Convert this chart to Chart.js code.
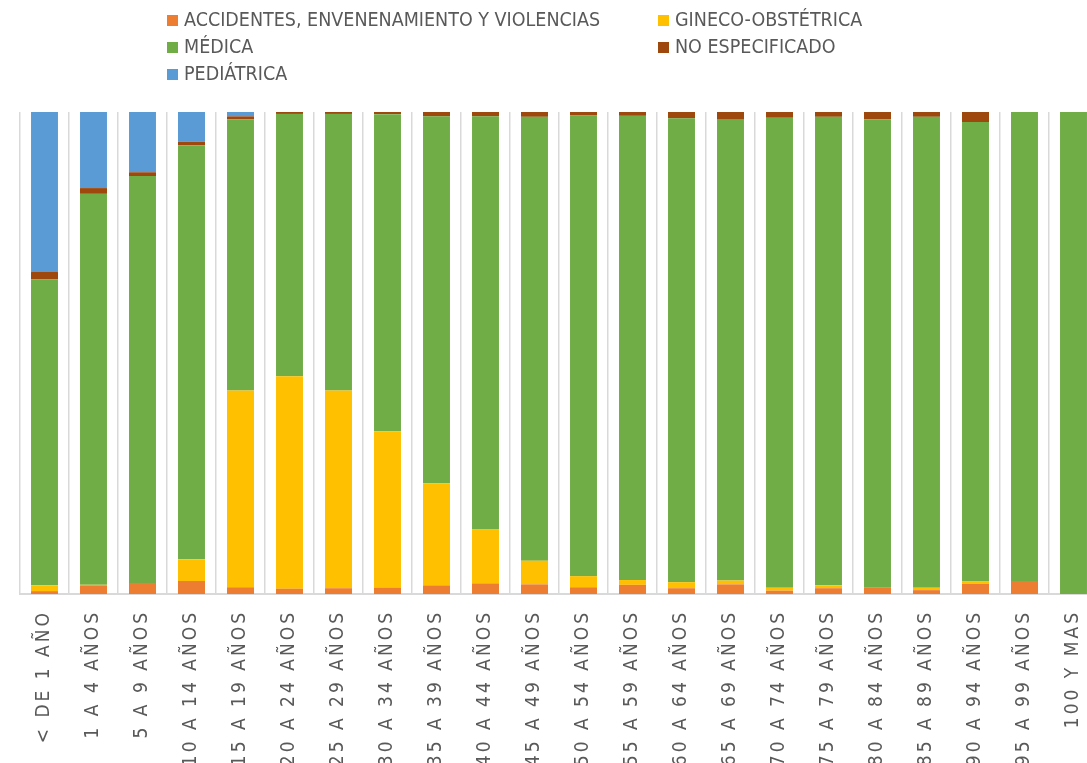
<!DOCTYPE html>
<html>
<head>
<meta charset="utf-8">
<script src="https://cdn.jsdelivr.net/npm/chart.js@4.4.0/dist/chart.umd.min.js"></script>
<style>
  html, body { margin: 0; padding: 0; background: #fff; overflow: hidden; width: 1087px; height: 763px; }
  #wrap { position: absolute; left: 0; top: 0; width: 1100px; height: 763px; }
  #legend { position: absolute; left: 0; top: 0; font-family: "Liberation Sans Narrow", "DejaVu Sans Condensed", sans-serif; font-size: 19.5px; color: #595959; }
  .item { position: absolute; white-space: nowrap; line-height: 20px; }
  .box { display: inline-block; width: 11px; height: 11px; margin-right: 6px; vertical-align: 0px; }
</style>
</head>
<body>
<div id="wrap">
  <canvas id="chart" width="1100" height="763"></canvas>
  <div id="legend"></div>
</div>
<script>
const labels = ['< DE 1 AÑO', '1 A 4 AÑOS', '5 A 9 AÑOS', '10 A 14 AÑOS', '15 A 19 AÑOS', '20 A 24 AÑOS',
  '25 A 29 AÑOS', '30 A 34 AÑOS', '35 A 39 AÑOS', '40 A 44 AÑOS', '45 A 49 AÑOS', '50 A 54 AÑOS',
  '55 A 59 AÑOS', '60 A 64 AÑOS', '65 A 69 AÑOS', '70 A 74 AÑOS', '75 A 79 AÑOS', '80 A 84 AÑOS',
  '85 A 89 AÑOS', '90 A 94 AÑOS', '95 A 99 AÑOS', '100 Y MAS'];

// percentages per age group
const accidentes = [0.6, 1.8, 2.3, 2.7, 1.4, 1.1, 1.2, 1.35, 1.8, 2.2, 2.0, 1.4, 1.9, 1.2, 2.0, 0.7, 1.2, 1.3, 0.8, 2.1, 2.7, 0];
const gineco = [1.2, 0.1, 0, 4.5, 40.8, 44.1, 41.0, 32.4, 21.2, 11.2, 4.9, 2.3, 1.0, 1.25, 0.8, 0.6, 0.6, 0, 0.5, 0.5, 0, 0];
const medica = [63.5, 81.2, 84.4, 86.0, 56.3, 54.4, 57.4, 65.8, 76.1, 85.7, 92.0, 95.6, 96.4, 96.2, 95.6, 97.5, 97.2, 97.2, 97.7, 95.3, 97.3, 100];
const noEspecificado = [1.5, 1.2, 0.8, 0.7, 0.6, 0.4, 0.4, 0.45, 0.9, 0.9, 1.0, 0.7, 0.8, 1.3, 1.6, 1.2, 1.0, 1.5, 1.0, 2.1, 0, 0];
const pediatrica = [33.2, 15.8, 12.5, 6.2, 0.9, 0, 0, 0, 0, 0, 0, 0, 0, 0, 0, 0, 0, 0, 0, 0, 0, 0];

const seriesNames = ['ACCIDENTES, ENVENENAMIENTO Y VIOLENCIAS', 'GINECO-OBSTÉTRICA', 'MÉDICA', 'NO ESPECIFICADO', 'PEDIÁTRICA'];
const seriesColors = ['#ED7D31', '#FFC000', '#70AD47', '#9E480E', '#5B9BD5'];
const seriesValues = [accidentes, gineco, medica, noEspecificado, pediatrica];

// 100% stacked: scale every column to a total of 100
const totals = labels.map((_, i) => seriesValues.reduce((s, arr) => s + arr[i], 0));

const datasets = seriesValues.map((arr, k) => ({
  label: seriesNames[k],
  data: arr.map((v, i) => v / totals[i] * 100),
  backgroundColor: seriesColors[k],
  borderWidth: 0,
  barPercentage: 0.55,
  categoryPercentage: 1.0
}));

// legend laid out in two columns like the original
const legendPos = [[167, 10], [658, 10], [167, 37], [658, 37], [167, 64]];
const legendEl = document.getElementById('legend');
seriesNames.forEach((name, k) => {
  const it = document.createElement('div');
  it.className = 'item';
  it.style.left = legendPos[k][0] + 'px';
  it.style.top = legendPos[k][1] + 'px';
  it.innerHTML = '<span class="box" style="background:' + seriesColors[k] + '"></span>';
  it.appendChild(document.createTextNode(name));
  legendEl.appendChild(it);
});

const spacing = {
  id: 'spacing',
  beforeLayout(chart) { chart.ctx.letterSpacing = '3px'; },
  beforeDraw(chart) { chart.ctx.letterSpacing = '3px'; }
};

new Chart(document.getElementById('chart').getContext('2d'), {
  type: 'bar',
  data: { labels, datasets },
  plugins: [spacing],
  options: {
    responsive: false,
    animation: false,
    devicePixelRatio: 1,
    layout: { padding: { left: 20, right: 2, top: 112, bottom: 0 } },
    plugins: { legend: { display: false }, tooltip: { enabled: false } },
    scales: {
      x: {
        stacked: true,
        grid: { color: '#D9D9D9', lineWidth: 1.5, drawTicks: false, offset: true },
        border: { color: '#D9D9D9', width: 2 },
        ticks: {
          autoSkip: false,
          minRotation: 90,
          maxRotation: 90,
          padding: 16,
          color: '#595959',
          font: { family: '"Liberation Sans Narrow", "DejaVu Sans Condensed", sans-serif', size: 19 }
        },
        afterFit(scale) {
          scale.height = 169;
          scale.paddingLeft = 0;
          scale.paddingRight = 0;
        }
      },
      y: {
        stacked: true,
        display: false,
        min: 0,
        max: 100
      }
    }
  }
});
</script>
</body>
</html>
